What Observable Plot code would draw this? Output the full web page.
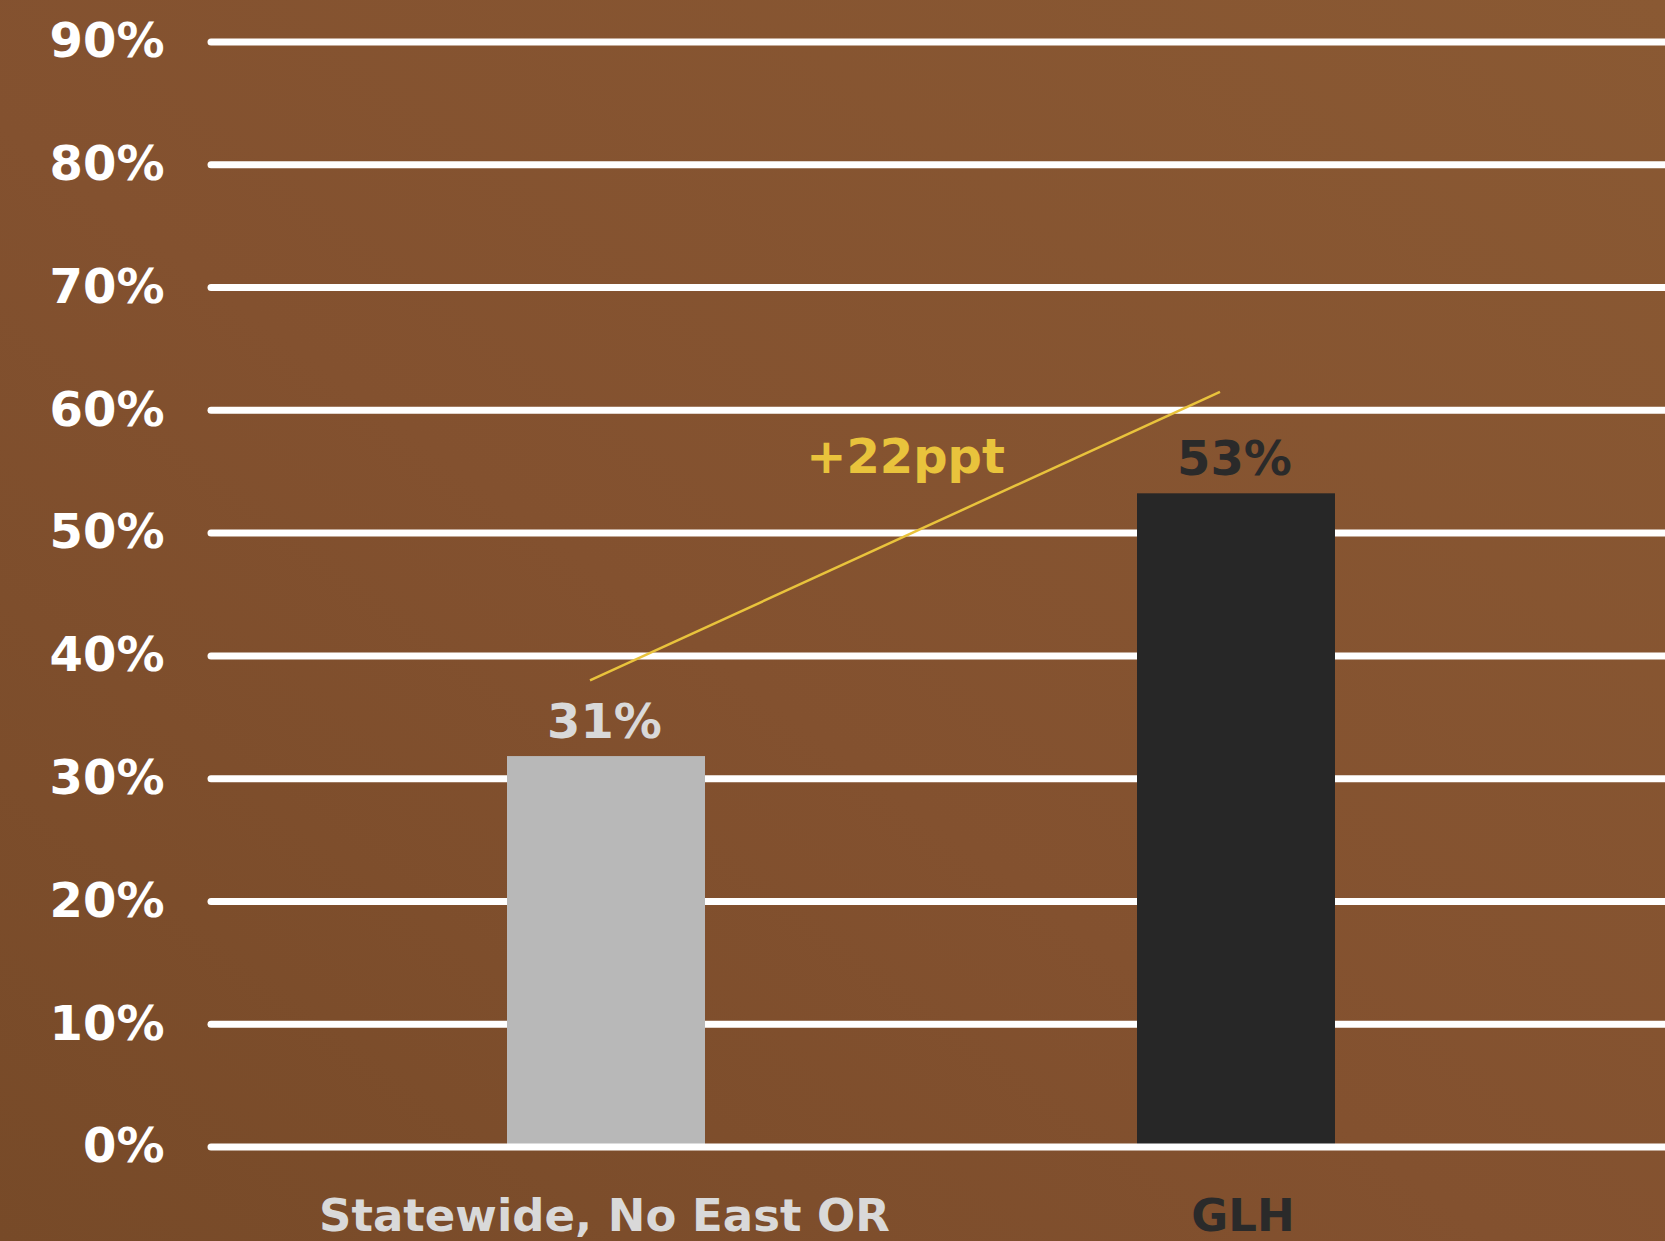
<!DOCTYPE html>
<html>
<head>
<meta charset="utf-8">
<script src="https://cdn.jsdelivr.net/npm/d3@7"></script>
<script src="https://cdn.jsdelivr.net/npm/@observablehq/plot@0.6"></script>
<style>
  html, body { margin: 0; padding: 0; overflow: hidden; }
  body {
    width: 1665px; height: 1241px;
    background: linear-gradient(to top right, #774a28 0%, #83512f 45%, #8a5933 100%);
  }
  svg { display: block; }
</style>
</head>
<body>
<script>
// ---- data ----
const categories = ["Statewide, No East OR", "GLH"];
const values = [31.8, 53.2];
const valueLabels = ["31%", "53%"];
const barColors = ["#b8b8b8", "#272727"];
const labelColors = ["#d9d9d9", "#2a2a2a"];
const yTicks = [0, 10, 20, 30, 40, 50, 60, 70, 80, 90];
const diffFrom = 38;     // start of the difference line (%)
const diffTo = 61.5;     // end of the difference line (%)
const diffLabel = "+22ppt";
const diffLabelY = 54.9;

const data = categories.map((c, i) => ({
  cat: c, value: values[i], label: valueLabels[i], bar: barColors[i], ink: labelColors[i]
}));

const pctFont = "DejaVu Sans";
const yellow = "#e9c33c";

const chart = Plot.plot({
  width: 1665,
  height: 1241,
  marginLeft: 211,
  marginRight: 0,
  marginTop: 41.5,
  marginBottom: 94.5,
  style: { background: "transparent", overflow: "visible" },
  x: { domain: categories, paddingInner: 0.685, paddingOuter: 0.4947, align: 0.4726, axis: null },
  y: { domain: [0, 90] },
  color: { type: "identity" },
  marks: [
    Plot.ruleY(yTicks.filter(t => t > 0), { stroke: "#ffffff", strokeWidth: 7, strokeLinecap: "round" }),
    Plot.barY(data, { x: "cat", y: "value", fill: "bar" }),
    Plot.ruleY([0], { stroke: "#ffffff", strokeWidth: 7, strokeLinecap: "round" }),
    Plot.axisY({
      ticks: yTicks, tickFormat: d => d + "%", tickSize: 0, tickPadding: 47,
      fontSize: 48, fontFamily: pctFont, fontWeight: "bold", fill: "#ffffff", label: null
    }),
    Plot.text(data, {
      x: "cat", y: "value", text: "label", fill: "ink", dy: -18.5, dx: -2,
      lineAnchor: "bottom", fontSize: 48, fontFamily: pctFont, fontWeight: "bold"
    }),
    Plot.link([{ c1: categories[0], y1: diffFrom, c2: categories[1], y2: diffTo }], {
      x1: "c1", y1: "y1", x2: "c2", y2: "y2", dx: -16.5,
      stroke: yellow, strokeWidth: 2.5
    }),
    Plot.text([diffLabel], {
      x: () => categories[0], y: () => diffLabelY, text: d => d, dx: 299,
      lineAnchor: "bottom", fill: yellow, fontSize: 48, fontFamily: pctFont, fontWeight: "bold"
    }),
    Plot.text(data.filter(d => d.cat === categories[0]), {
      x: "cat", y: () => 0, text: "cat", fill: "ink", dy: 84, dx: -2,
      lineAnchor: "bottom", fontSize: 45, fontFamily: pctFont, fontWeight: "bold"
    }),
    Plot.text(data.filter(d => d.cat === categories[1]), {
      x: "cat", y: () => 0, text: "cat", fill: "ink", dy: 84, dx: 6.5,
      lineAnchor: "bottom", fontSize: 45, fontFamily: pctFont, fontWeight: "bold"
    })
  ]
});
document.body.append(chart);
</script>
</body>
</html>
